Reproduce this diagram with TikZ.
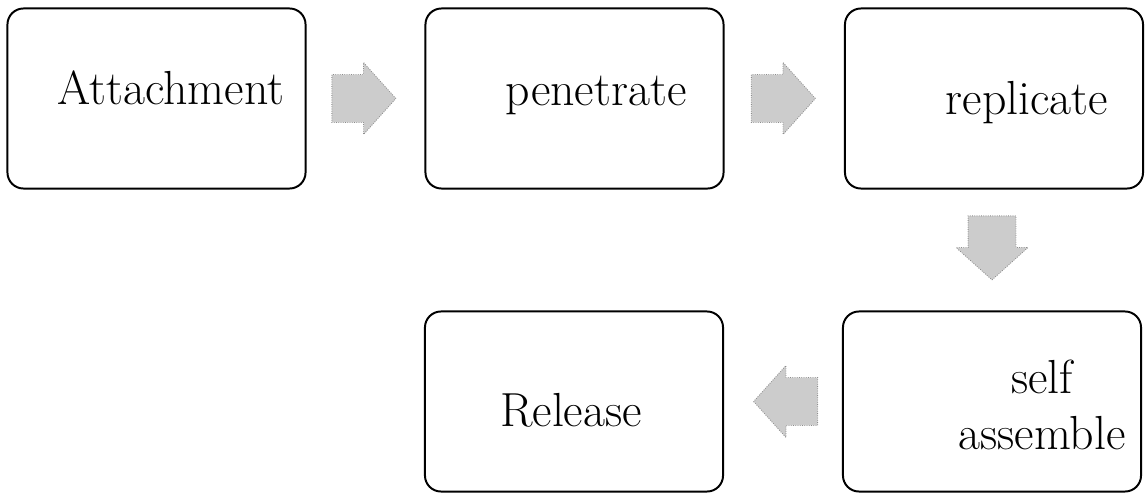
\documentclass[tikz,border=0pt]{standalone}
\usetikzlibrary{shapes.arrows,calc}
\tikzset{
  stagebox/.style={draw, line width=1.4pt, rounded corners=0.4cm,
    minimum width=7.45cm, minimum height=4.5cm, inner sep=0pt},
  hand/.style={font=\fontsize{34}{40}\selectfont, inner sep=0pt, align=center},
  blockarrow/.style={single arrow, fill=black!20, draw=black!45, densely dotted,
    line width=0.6pt, minimum height=1.6cm, inner xsep=0pt, inner ysep=0.5875cm,
    single arrow head extend=0.3cm, single arrow tip angle=96, anchor=tip}
}
\begin{document}
\begin{tikzpicture}[x=0.025cm, y=-0.025cm]
        \useasboundingbox (0,0) rectangle (1146,493);
        % stage boxes, top row left to right, then bottom row
        \node[stagebox] (attach) at (156.5,98.5) {};
        \node[stagebox] (pen) at (574.5,98.5) {};
        \node[stagebox] (repl) at (994,98.5) {};
        \node[stagebox] (assem) at (992,401.5) {};
        \node[stagebox] (rel) at (574,401.5) {};
        % handwritten labels
        \node[hand] (attachtxt) at (171,88) {Attachment};
        \node[hand] (pentxt) at (596,95) {penetrate};
        \node[hand] (repltxt) at (1027,103) {replicate};
        \node[hand] (assemtxt) at (1042,405) {self\\assemble};
        \node[hand] (reltxt) at (571,410) {Release};
        % grey block arrows, tip just short of the next stage
        \node[blockarrow] (a1) at ($(pen.west)+(-28,0)$) {};
        \node[blockarrow] (a2) at ($(repl.west)+(-28,0)$) {};
        \node[blockarrow, rotate=-90] (a3) at ($(assem.north)+(0,-30)$) {};
        \node[blockarrow, rotate=180] (a4) at ($(rel.east)+(29,0)$) {};
    \end{tikzpicture}
\end{document}
